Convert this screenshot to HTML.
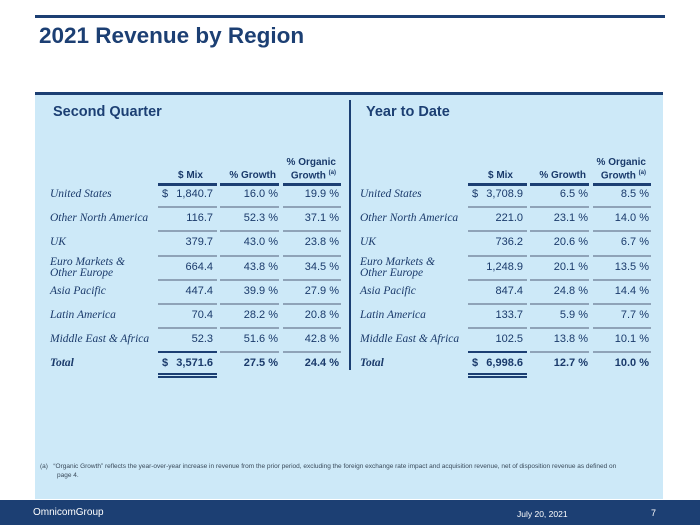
<!DOCTYPE html>
<html><head><meta charset="utf-8"><style>
body{margin:0;width:700px;height:525px;position:relative;background:#fff;overflow:hidden;font-family:"Liberation Sans",sans-serif;color:#1a3a6b}
.a{position:absolute;white-space:nowrap}
.lab{font-family:"Liberation Serif",serif;font-style:italic;font-size:11.5px;color:#1a3a6b;line-height:11px}
.num{font-size:11px;color:#1a3a6b;text-align:right}
.hd{font-size:10px;font-weight:bold;text-align:right;line-height:11px}
.ln{position:absolute;height:2px;background:#8fa3b8}
</style></head><body>
<div class="a" style="left:35px;top:15px;width:630px;height:3px;background:#1c3f73"></div>
<div class="a" style="left:39px;top:23px;font-size:22.5px;font-weight:bold;color:#1c3f73">2021 Revenue by Region</div>
<div class="a" style="left:35px;top:92px;width:628px;height:404px;background:#cde9f8;border-top:3px solid #1c3f73"></div>
<div class="a" style="left:349px;top:100px;width:2px;height:270px;background:#1c3f73"></div>
<div class="a" style="left:53px;top:104px;font-size:14.5px;font-weight:bold;color:#1c3f73">Second Quarter</div>
<div class="a" style="left:366px;top:104px;font-size:14.5px;font-weight:bold;color:#1c3f73">Year to Date</div>
<div id="tables"></div>
<div class="a" style="left:40px;top:462px;font-size:6.5px;color:#3a4a5a;line-height:9px;white-space:normal;width:620px">(a)&nbsp;&nbsp;&nbsp;“Organic Growth” reflects the year-over-year increase in revenue from the prior period, excluding the foreign exchange rate impact and acquisition revenue, net of disposition revenue as defined on<br><span style="padding-left:17px">page 4.</span></div>
<div class="a" style="left:0;top:500px;width:700px;height:25px;background:#1c3f73"></div>
<div class="a" style="left:33px;top:507px;font-size:10px;color:#fff">OmnicomGroup</div>
<div class="a" style="left:517px;top:509px;font-size:8.5px;color:#fff">July 20, 2021</div>
<div class="a" style="left:651px;top:508px;font-size:9px;color:#fff">7</div>
<script>
const regions=["United States","Other North America","UK","Euro Markets &<br>Other Europe","Asia Pacific","Latin America","Middle East & Africa","Total"];
const qMix=["1,840.7","116.7","379.7","664.4","447.4","70.4","52.3","3,571.6"];
const qGrowth=["16.0 %","52.3 %","43.0 %","43.8 %","39.9 %","28.2 %","51.6 %","27.5 %"];
const qOrganic=["19.9 %","37.1 %","23.8 %","34.5 %","27.9 %","20.8 %","42.8 %","24.4 %"];
const yMix=["3,708.9","221.0","736.2","1,248.9","847.4","133.7","102.5","6,998.6"];
const yGrowth=["6.5 %","23.1 %","20.6 %","20.1 %","24.8 %","5.9 %","13.8 %","12.7 %"];
const yOrganic=["8.5 %","14.0 %","6.7 %","13.5 %","14.4 %","7.7 %","10.1 %","10.0 %"];
const rowY=[195,219,243,268,292,316,340,364];
const root=document.getElementById('tables');
function add(html,cls,l,t,w,name){
  const d=document.createElement('div');
  d.className='a '+cls;d.style.left=l+'px';d.style.top=t+'px';if(w)d.style.width=w+'px';
  d.innerHTML=html;
  
  
  root.appendChild(d);return d;
}
function table(x0,mix,gr,org,prefix){
  const cols=[[x0+108,x0+167],[x0+170,x0+229],[x0+233,x0+291]];
  add('$ Mix','hd',cols[0][0],170,cols[0][1]-cols[0][0]-14,prefix+'-header-mix');
  add('% Growth','hd',cols[1][0],170,cols[1][1]-cols[1][0]-3,prefix+'-header-growth');
  add('% Organic<br>Growth <sup style="font-size:6px">(a)</sup>','hd',cols[2][0],157,cols[2][1]-cols[2][0]-5,prefix+'-header-organic');
  cols.forEach((c,i)=>{const l=add('','',c[0],183,c[1]-c[0],prefix+'-header-rule-'+i);l.style.height='3px';l.style.background='#1c3f73';});
  for(let i=0;i<regions.length;i++){
    const y=rowY[i];const tot=i===7;
    const lab=add(regions[i],'lab',x0,regions[i].includes('<br>')?y-11:y-6,null,prefix+'-row-label-'+i);
    if(tot){lab.style.fontWeight='bold';}
    const fw=tot?'bold':'normal';
    if(i===0||tot){const s=add('$','num',cols[0][0]+4,y-7,null,prefix+'-dollar-sign-'+i);s.style.fontWeight=fw;}
    const m=add(mix[i],'num',cols[0][0],y-7,cols[0][1]-cols[0][0]-4,prefix+'-mix-'+i);m.style.fontWeight=fw;
    const g=add(gr[i],'num',cols[1][0],y-7,cols[1][1]-cols[1][0]-1,prefix+'-growth-'+i);g.style.fontWeight=fw;
    const o=add(org[i],'num',cols[2][0],y-7,cols[2][1]-cols[2][0]-2,prefix+'-organic-'+i);o.style.fontWeight=fw;
    if(i<6){cols.forEach((c,k)=>{add('','ln',c[0],(rowY[i]+rowY[i+1])/2-1,c[1]-c[0],prefix+'-row-rule-'+i+'-'+k);});}
    if(i===6){cols.forEach((c,k)=>{const l=add('','ln',c[0],(rowY[6]+rowY[7])/2-1,c[1]-c[0],prefix+'-row-rule-'+i+'-'+k);if(k===0)l.style.background='#1c3f73';});}
  }
  [373,376].forEach((t,j)=>{const l=add('','',cols[0][0],t,cols[0][1]-cols[0][0],prefix+'-total-double-rule-'+j);l.style.height='1.5px';l.style.background='#1c3f73';});
}
table(50,qMix,qGrowth,qOrganic,'q2');
table(360,yMix,yGrowth,yOrganic,'ytd');
</script>
</body></html>
